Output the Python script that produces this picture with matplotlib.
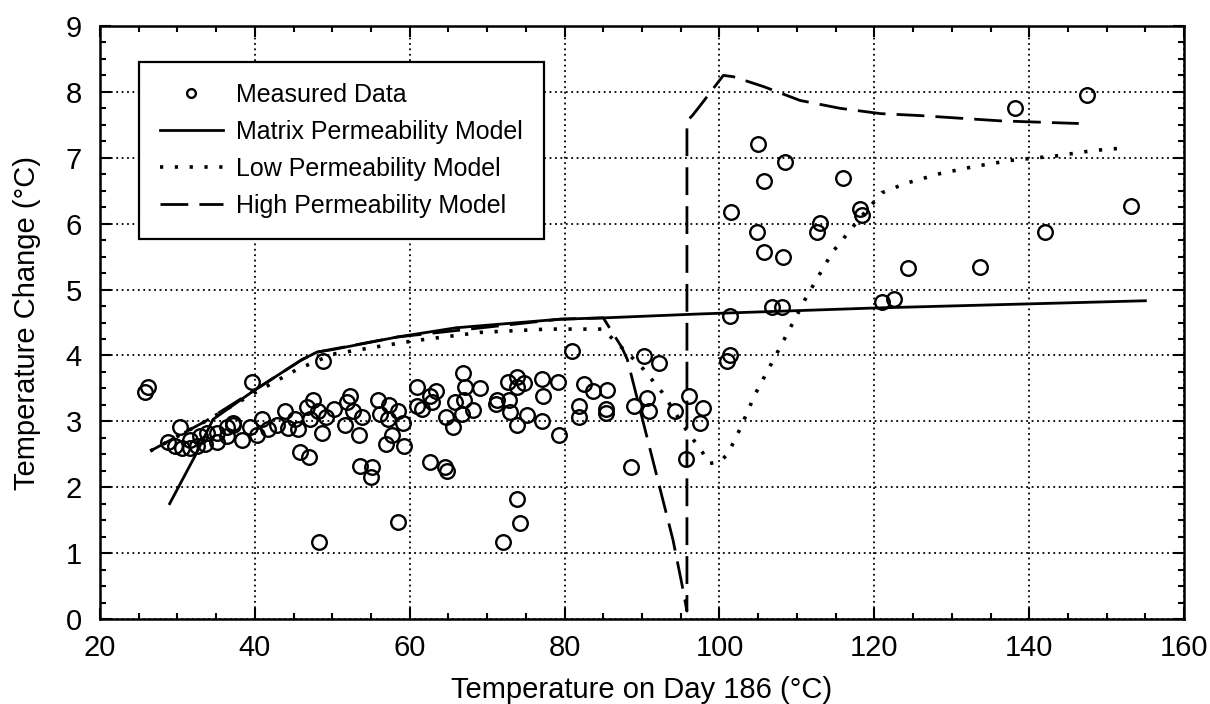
import matplotlib
matplotlib.use('Agg')
import matplotlib.pyplot as plt
from matplotlib.ticker import MultipleLocator

plt.rcParams['font.family'] = ['Liberation Sans', 'DejaVu Sans']

# measured points
meas_x = [25.8, 26.2, 28.8, 29.7, 30.6, 31.6, 32.5, 33.6, 35.1, 30.3, 31.6, 32.9, 33.8, 35.1,
          36.4, 37.2, 36.4, 38.3, 37.2, 39.4, 40.3, 39.6, 40.9, 41.7, 42.9, 43.9, 44.3, 45.2,
          45.6, 46.8, 47.1, 47.5, 48.2, 48.7, 49.2, 48.8, 45.8, 47.0, 50.2, 51.6, 52.3, 51.9,
          52.7, 53.8, 53.4, 53.6, 55.1, 55.0, 55.9, 57.3, 58.5, 56.2, 57.2, 59.1, 57.7, 56.9,
          59.3, 48.3, 58.5,
          61.0, 62.6, 63.4, 62.9, 61.0, 61.6, 62.6, 64.6, 64.8, 64.7, 65.6, 65.9, 66.9, 67.2,
          67.0, 66.8, 68.2, 69.1, 71.3, 71.2, 72.7, 73.9, 74.8, 73.9, 72.8, 73.0, 73.9, 75.2,
          77.1, 77.2, 77.1, 79.2, 79.3, 73.9, 74.2, 72.1, 80.9,
          82.5, 83.7, 85.5, 81.8, 81.9, 85.4, 85.4, 90.2, 92.2, 88.9, 90.7, 90.9, 94.3, 96.1,
          97.9, 97.5, 95.7, 88.6, 101.0, 101.4,
          101.3, 106.8, 108.1, 121.0, 122.6, 124.4, 133.7, 142.1, 153.2, 147.5, 138.1, 105.0,
          108.4, 105.8, 115.9, 101.5, 104.9, 105.8, 108.2, 113.0, 112.6, 118.1, 118.4]
meas_y = [3.45, 3.52, 2.68, 2.62, 2.59, 2.60, 2.62, 2.65, 2.68, 2.92, 2.72, 2.77, 2.83, 2.83,
          2.92, 2.98, 2.77, 2.72, 2.95, 2.92, 2.79, 3.59, 3.03, 2.89, 2.95, 3.15, 2.90, 3.03,
          2.89, 3.22, 3.04, 3.33, 3.15, 2.82, 3.07, 3.91, 2.54, 2.46, 3.18, 2.95, 3.38, 3.30,
          3.15, 3.07, 2.80, 2.32, 2.31, 2.15, 3.33, 3.25, 3.15, 3.11, 3.03, 2.97, 2.79, 2.65,
          2.62, 1.17, 1.48,
          3.52, 3.38, 3.46, 3.30, 3.23, 3.18, 2.38, 2.30, 2.24, 3.06, 2.91, 3.30, 3.74, 3.52,
          3.32, 3.11, 3.17, 3.50, 3.32, 3.26, 3.59, 3.68, 3.58, 3.52, 3.32, 3.14, 2.95, 3.09,
          3.64, 3.39, 3.00, 3.59, 2.79, 1.82, 1.46, 1.17, 4.07,
          3.56, 3.46, 3.47, 3.24, 3.07, 3.18, 3.13, 3.99, 3.88, 3.24, 3.35, 3.15, 3.15, 3.38,
          3.21, 2.97, 2.43, 2.31, 3.91, 4.00,
          4.60, 4.73, 4.73, 4.81, 4.86, 5.33, 5.34, 5.88, 6.27, 7.96, 7.75, 7.21,
          6.93, 6.65, 6.70, 6.18, 5.88, 5.57, 5.49, 6.01, 5.88, 6.23, 6.13]

# model curves
matrix_x = [29.0, 32.3, 34.6, 39.8, 46.0, 48.0, 50.1, 58.4, 66.0, 79.4, 85.0, 97.5, 120.0, 155.0]
matrix_y = [1.75, 2.48, 3.03, 3.46, 3.93, 4.05, 4.09, 4.28, 4.42, 4.55, 4.57, 4.63, 4.72, 4.83]

low_x = [26.5, 33.6, 39.8, 45.5, 50.1, 56.2, 60.4, 69.1, 77.8, 84.9, 88.7, 90.2, 92.6, 95.6,
         97.8, 98.7, 100.1, 101.1, 102.6, 104.6, 107.9, 111.1, 114.6, 118.4, 121.0, 124.0,
         128.5, 133.0, 137.6, 143.6, 148.3, 151.4]
low_y = [2.55, 3.0, 3.42, 3.79, 4.02, 4.14, 4.22, 4.35, 4.40, 4.40, 3.97, 3.79, 3.44, 2.89,
         2.53, 2.36, 2.39, 2.51, 2.87, 3.41, 4.14, 4.86, 5.57, 6.12, 6.47, 6.61,
         6.76, 6.87, 6.96, 7.03, 7.11, 7.14]

high_x = [26.5, 33.6, 39.8, 46.0, 48.0, 58.4, 79.4, 85.0, 87.4, 88.1, 94.0, 95.2, 95.8, 95.8,
          96.5, 97.5, 100.5, 101.8, 105.7, 110.4, 115.6, 120.8, 125.9, 131.1, 136.3, 146.4]
high_y = [2.55, 3.0, 3.46, 3.93, 4.05, 4.28, 4.55, 4.57, 4.12, 3.94, 1.2, 0.5, 0.12, 7.56,
          7.64, 7.79, 8.25, 8.23, 8.08, 7.87, 7.75, 7.67, 7.64, 7.60, 7.56, 7.52]

fig = plt.figure(figsize=(12.1, 7.04), dpi=100)
ax = fig.add_axes([0.0826, 0.1207, 0.896, 0.8424])

ax.plot(meas_x, meas_y, 'o', ms=10.5, mfc='none', mec='black', mew=1.7, label='Measured Data')
ax.plot(matrix_x, matrix_y, '-', color='black', lw=2, label='Matrix Permeability Model')
ax.plot(low_x, low_y, color='black', lw=2.6, linestyle=(0, (0.9, 3.2)), label='Low Permeability Model')
ax.plot(high_x, high_y, color='black', lw=2, linestyle=(0, (10, 4)), label='High Permeability Model')

ax.set_xlim(20, 160)
ax.set_ylim(0, 9)
ax.xaxis.set_major_locator(MultipleLocator(20))
ax.xaxis.set_minor_locator(MultipleLocator(5))
ax.yaxis.set_major_locator(MultipleLocator(1))
ax.yaxis.set_minor_locator(MultipleLocator(0.25))
ax.grid(True, which='major', color='black', linestyle=(0, (1, 2)), lw=1.3)
ax.tick_params(which='both', direction='in', top=True, right=True, labelsize=21, width=1.5)
ax.tick_params(which='major', length=8, pad=11)
ax.tick_params(which='minor', length=4)
ax.tick_params(axis='y', which='major', pad=13)
for s in ax.spines.values():
    s.set_linewidth(1.8)

ax.set_xlabel('Temperature on Day 186 (°C)', fontsize=21, labelpad=10)
ax.set_ylabel('Temperature Change (°C)', fontsize=21, labelpad=18)

leg = ax.legend(loc='upper left', bbox_to_anchor=(0.036, 0.94), borderaxespad=0,
                fontsize=18, fancybox=False, edgecolor='black', framealpha=1,
                handlelength=2.5, handletextpad=0.55, labelspacing=0.52,
                markerscale=0.6, borderpad=0.85)
leg.get_frame().set_linewidth(1.6)

plt.savefig('out.png', dpi=100)
